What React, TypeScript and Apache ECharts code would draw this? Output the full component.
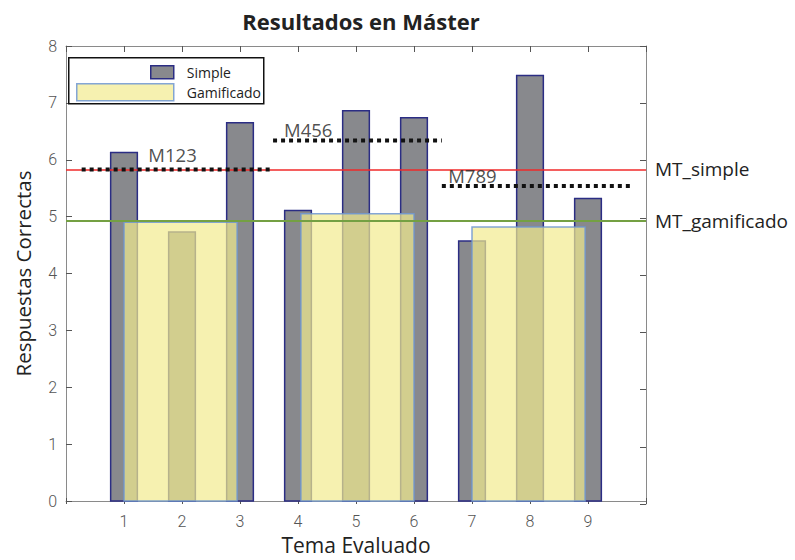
import React, { useEffect, useRef } from "react";
import * as echarts from "echarts";

// ---- data ----
const temas = [1, 2, 3, 4, 5, 6, 7, 8, 9];
const simpleValues = [6.13, 4.73, 6.65, 5.11, 6.86, 6.74, 4.57, 7.48, 5.32];
const gamiStart = [1.0, 4.05, 7.0];
const gamiEnd = [2.95, 6.0, 8.95];
const gamiValues = [4.9, 5.05, 4.82];
const moduleNames = ["M123", "M456", "M789"];
const moduleStart = [0.27, 3.57, 6.48];
const moduleEnd = [3.52, 6.48, 9.74];
const moduleMeans = [5.83, 6.34, 5.54];
const mtSimple = 5.83;
const mtGamificado = 4.93;
const xTickLabels = ["1", "2", "3", "4", "5", "6", "7", "8", "9"];

// annotation anchor positions (data coords) for module labels
const moduleLabelPos = [
  [1.42, 6.1],
  [3.76, 6.54],
  [6.59, 5.72],
];

const SIMPLE_WIDTH = 0.46;
const GREY = "#88898d";
const NAVY = "#2b2d84";
const YELLOW = "rgba(242,235,142,0.7)";
const YELLOW_EDGE = "rgba(110,150,210,0.85)";

const GRID_W = 580;
const GRID_H = 458;

export default function App() {
  const ref = useRef<HTMLDivElement>(null);

  useEffect(() => {
    if (!ref.current) return;
    const chart = echarts.init(ref.current, null, { renderer: "svg" });

    const axisLineStyle = { color: "#8a8a8a", width: 1 };
    const tickOn = () => ({ show: true, length: 6, lineStyle: { color: "#555555" } });
    const tickLabelStyle = { color: "#555555", fontSize: 16, fontFamily: "Roboto", fontWeight: 300 };
    const xBase = { type: "value", min: 0, max: 10, interval: 1, splitLine: { show: false } };
    const yBase = { type: "value", min: 0, max: 8, interval: 1, splitLine: { show: false } };

    const dottedSeries = moduleNames.map((n, i) => ({
      type: "line",
      name: n + "_line",
      data: [
        [moduleStart[i], moduleMeans[i]],
        [moduleEnd[i], moduleMeans[i]],
      ],
      symbol: "none",
      silent: true,
      z: 6,
      lineStyle: { color: "#111111", width: 4, type: [4, 4], cap: "butt" },
    }));

    const option: any = {
      animation: false,
      title: {
        text: "Resultados en Máster",
        left: 356,
        textAlign: "center",
        top: 5,
        textStyle: { fontFamily: "Open Sans", fontWeight: "bold", fontSize: 22, color: "#222222" },
      },
      grid: [
        { left: 66, top: 46, width: GRID_W, height: GRID_H, containLabel: false },
        { left: 66, top: 46, width: GRID_W, height: GRID_H, containLabel: false },
      ],
      legend: [
        {
          left: 150,
          top: 65,
          z: 10,
          padding: 0,
          itemWidth: 23,
          itemHeight: 13,
          selectedMode: false,
          data: [
            { name: "Simple", icon: "rect", itemStyle: { color: GREY, borderColor: NAVY, borderWidth: 1.5 } },
          ],
          textStyle: { fontFamily: "Open Sans", fontSize: 14, color: "#222", padding: [0, 0, 0, 8] },
        },
        {
          left: 76,
          top: 83,
          z: 10,
          padding: 0,
          itemWidth: 97,
          itemHeight: 17,
          selectedMode: false,
          data: [
            { name: "Gamificado", icon: "rect", itemStyle: { color: YELLOW, borderColor: YELLOW_EDGE, borderWidth: 1.5 } },
          ],
          textStyle: { fontFamily: "Open Sans", fontSize: 14, color: "#222", padding: [0, 0, 0, 8] },
        },
      ],
      graphic: [
        {
          type: "rect",
          left: 68,
          top: 57,
          z: 1,
          shape: { width: 195, height: 46 },
          style: { fill: "#ffffff", stroke: "#111111", lineWidth: 1.5 },
        },
      ],
      xAxis: [
        {
          ...xBase,
          gridIndex: 0,
          position: "bottom",
          name: "Tema Evaluado",
          nameLocation: "middle",
          nameGap: 31,
          nameTextStyle: { fontFamily: "Open Sans", fontSize: 21, color: "#222222" },
          axisLine: { show: true, onZero: false, lineStyle: axisLineStyle },
          axisTick: { show: false },
          axisLabel: {
            ...tickLabelStyle,
            margin: 12,
            formatter: (v: number) => (v >= 1 && v <= 9 ? xTickLabels[v - 1] : ""),
          },
        },
        {
          // sits on the bottom edge, ticks pointing up into the plot
          ...xBase,
          gridIndex: 0,
          position: "top",
          offset: -GRID_H,
          axisLine: { show: false, onZero: false },
          axisTick: tickOn(),
          axisLabel: { show: false },
        },
        {
          // sits on the top edge, ticks pointing down into the plot
          ...xBase,
          gridIndex: 1,
          position: "bottom",
          offset: -GRID_H,
          axisLine: { show: true, onZero: false, lineStyle: axisLineStyle },
          axisTick: tickOn(),
          axisLabel: { show: false },
        },
      ],
      yAxis: [
        {
          ...yBase,
          gridIndex: 0,
          position: "left",
          name: "Respuestas Correctas",
          nameLocation: "middle",
          nameGap: 33,
          nameTextStyle: { fontFamily: "Open Sans", fontSize: 20.5, color: "#222222" },
          axisLine: { show: true, onZero: false, lineStyle: axisLineStyle },
          axisTick: { show: false },
          axisLabel: { ...tickLabelStyle, margin: 9 },
        },
        {
          // sits on the left edge, ticks pointing right into the plot
          ...yBase,
          gridIndex: 0,
          position: "right",
          offset: -GRID_W,
          axisLine: { show: false, onZero: false },
          axisTick: tickOn(),
          axisLabel: { show: false },
        },
        {
          // sits on the right edge, ticks pointing left into the plot
          ...yBase,
          gridIndex: 1,
          position: "left",
          offset: -GRID_W,
          axisLine: { show: true, onZero: false, lineStyle: axisLineStyle },
          axisTick: tickOn(),
          axisLabel: { show: false },
        },
      ],
      series: [
        {
          type: "custom",
          name: "Simple",
          z: 2,
          xAxisIndex: 0,
          yAxisIndex: 0,
          itemStyle: { color: GREY, borderColor: NAVY },
          encode: { x: 0, y: 1 },
          data: temas.map((t, i) => [t, simpleValues[i]]),
          renderItem: (params: any, api: any) => {
            const x = api.value(0);
            const y = api.value(1);
            const p0 = api.coord([x - SIMPLE_WIDTH / 2, y]);
            const p1 = api.coord([x + SIMPLE_WIDTH / 2, 0]);
            return {
              type: "rect",
              shape: { x: p0[0], y: p0[1], width: p1[0] - p0[0], height: p1[1] - p0[1] },
              style: { fill: GREY, stroke: NAVY, lineWidth: 1.5 },
            };
          },
        },
        {
          type: "custom",
          name: "Gamificado",
          z: 3,
          xAxisIndex: 0,
          yAxisIndex: 0,
          itemStyle: { color: YELLOW, borderColor: YELLOW_EDGE },
          encode: { x: [0, 1], y: 2 },
          data: gamiValues.map((v, i) => [gamiStart[i], gamiEnd[i], v]),
          renderItem: (params: any, api: any) => {
            const p0 = api.coord([api.value(0), api.value(2)]);
            const p1 = api.coord([api.value(1), 0]);
            return {
              type: "rect",
              shape: { x: p0[0], y: p0[1], width: p1[0] - p0[0], height: p1[1] - p0[1] },
              style: { fill: YELLOW, stroke: YELLOW_EDGE, lineWidth: 1.5 },
            };
          },
          markLine: {
            silent: true,
            symbol: "none",
            z: 5,
            data: [
              {
                yAxis: mtSimple,
                lineStyle: { color: "#f02a2a", width: 1.5, type: "solid" },
                label: { formatter: "MT_simple", color: "#222" },
              },
              {
                yAxis: mtGamificado,
                lineStyle: { color: "#74a043", width: 1.8, type: "solid" },
                label: { formatter: "MT_gamificado", color: "#222" },
              },
            ],
            label: {
              show: true,
              position: "end",
              distance: 9,
              fontFamily: "Open Sans",
              fontSize: 19,
            },
          },
        },
        ...dottedSeries.map((s) => ({ ...s, xAxisIndex: 0, yAxisIndex: 0 })),
        {
          type: "scatter",
          name: "modLabels",
          xAxisIndex: 0,
          yAxisIndex: 0,
          symbolSize: 0,
          silent: true,
          z: 7,
          data: moduleNames.map((n, i) => ({ name: n, value: moduleLabelPos[i] })),
          label: {
            show: true,
            position: "right",
            distance: 0,
            formatter: (p: any) => p.name,
            fontFamily: "Open Sans",
            fontSize: 18.5,
            color: "#222222",
          },
        },
      ],
    };

    chart.setOption(option);
    return () => chart.dispose();
  }, []);

  return (
    <div
      ref={ref}
      style={{ position: "absolute", left: 0, top: 0, width: 795, height: 560, background: "#ffffff" }}
    />
  );
}
